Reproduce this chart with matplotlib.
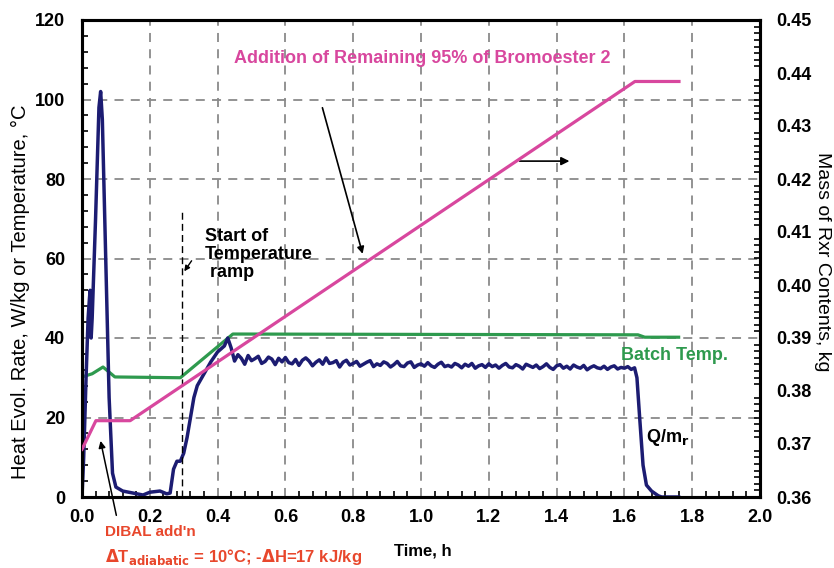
import numpy as np
import matplotlib
matplotlib.use("Agg")
import matplotlib.pyplot as plt
from matplotlib.ticker import MultipleLocator

plt.rcParams['font.family'] = ['Liberation Sans', 'DejaVu Sans']

# ---- data ----
# Heat evolution rate Q/m_r (W/kg) vs time (h)
q_time_early = [0.000, 0.005, 0.012, 0.018, 0.022, 0.024, 0.027, 0.030, 0.040, 0.050, 0.055,
                0.060, 0.070, 0.080, 0.090, 0.100, 0.120, 0.150, 0.180, 0.200, 0.230, 0.250,
                0.260, 0.270, 0.280, 0.290, 0.300, 0.310, 0.320, 0.330, 0.340, 0.360, 0.380,
                0.400, 0.420, 0.430]
q_vals_early = [0.0, 10.0, 30.0, 45.0, 50.0, 52.0, 40.0, 45.0, 70.0, 98.0, 102.0,
                95.0, 60.0, 25.0, 6.0, 2.5, 1.5, 1.0, 0.5, 1.2, 1.5, 0.8,
                1.0, 7.0, 9.0, 9.0, 11.0, 15.0, 20.0, 25.0, 28.0, 31.0, 34.0,
                36.5, 38.0, 40.0]
q_time_mid = np.round(np.arange(0.44, 1.6351, 0.01), 2)
q_vals_mid = [37.5, 34.2, 35.8, 34.9, 33.4, 35.6, 34.3, 34.8, 35.4, 33.6,
              34.1, 35.2, 34.7, 33.3, 34.9, 34.0, 35.1, 33.8, 33.5, 34.6,
              33.1, 34.4, 35.0, 34.2, 33.0, 33.9, 34.5, 33.4, 35.0, 33.6,
              33.8, 34.3, 32.7, 33.9, 34.4, 33.2, 33.6, 34.1, 32.9, 33.4,
              33.9, 34.3, 32.8, 33.5, 33.1, 34.0, 33.6, 32.7, 33.3, 34.1,
              33.0, 32.8, 33.7, 34.0, 32.6, 33.2, 33.5, 32.9, 33.8, 33.0,
              32.6, 33.4, 33.9, 32.8, 33.1, 32.7, 33.6, 33.2, 32.5, 33.4,
              32.9, 33.6, 32.4, 33.0, 33.3, 32.6, 33.5, 32.8, 33.2, 32.4,
              33.1, 33.6, 32.7, 32.5, 33.3, 32.9, 32.2, 33.4, 33.0, 32.6,
              33.2, 32.3, 32.8, 33.5, 32.6, 32.1, 33.0, 33.3, 32.4, 32.9,
              32.2, 33.2, 32.7, 32.4, 33.1, 32.0, 32.6, 33.0, 32.5, 32.3,
              32.9, 32.1, 32.7, 33.0, 32.2, 32.6, 32.4, 32.8, 32.1, 32.5]
q_time_late = [1.637, 1.645, 1.655, 1.665, 1.680, 1.700, 1.710, 1.760]
q_vals_late = [30.0, 20.0, 8.0, 3.0, 1.5, 0.3, 0.0, 0.0]

# Batch temperature (°C)
temp_time = [0.000, 0.030, 0.062, 0.097, 0.290, 0.445, 1.640, 1.660, 1.760]
temp_vals = [30.2, 31.0, 32.7, 30.2, 30.0, 41.0, 40.8, 40.2, 40.2]

# Mass of reactor contents (kg)
mass_time = [0.000, 0.041, 0.142, 1.631, 1.761]
mass_vals = [0.369, 0.3744, 0.3744, 0.4384, 0.4384]

x_ticks = [0.0, 0.2, 0.4, 0.6, 0.8, 1.0, 1.2, 1.4, 1.6, 1.8, 2.0]
y_ticks = [0, 20, 40, 60, 80, 100, 120]
y2_ticks = [0.36, 0.37, 0.38, 0.39, 0.40, 0.41, 0.42, 0.43, 0.44, 0.45]

# ---- colours ----
c_q = '#1c1c72'
c_t = '#2e9a4e'
c_m = '#d8479e'
c_red = '#e8472c'

W, H = 834, 568
fig = plt.figure(figsize=(W/100, H/100), dpi=100)
ax = fig.add_axes([82/W, 71/H, 678/W, 477/H])

q_time = list(q_time_early) + list(q_time_mid) + list(q_time_late)
q_vals = list(q_vals_early) + list(q_vals_mid) + list(q_vals_late)

ax.set_xlim(0, 2.0)
ax.set_ylim(0, 120)
ax.set_xticks(x_ticks)
ax.set_xticklabels([f"{v:.1f}" for v in x_ticks])
ax.set_yticks(y_ticks)
ax.xaxis.set_minor_locator(MultipleLocator(0.04))
ax.yaxis.set_minor_locator(MultipleLocator(4))
ax.grid(True, which='major', color='#8a8a8a', linestyle=(0, (5, 4)), linewidth=1.3)
ax.set_axisbelow(True)

ax.plot(temp_time, temp_vals, color=c_t, lw=2.3, zorder=3)
ax.plot(q_time, q_vals, color=c_q, lw=2.5, zorder=4)

ax2 = ax.twinx()
ax2.set_ylim(0.36, 0.45)
ax2.set_yticks(y2_ticks)
ax2.set_yticklabels([f"{v:.2f}" for v in y2_ticks])
ax2.yaxis.set_minor_locator(MultipleLocator(0.00125))
ax2.plot(mass_time, mass_vals, color=c_m, lw=2.3, zorder=3)

for a in (ax, ax2):
    for s in a.spines.values():
        s.set_linewidth(2.2)
        s.set_color('black')
    a.tick_params(which='both', direction='in', labelsize=13, width=1.2)
    a.tick_params(which='major', length=0)
    a.tick_params(which='minor', length=4)
    for lab in a.get_xticklabels() + a.get_yticklabels():
        lab.set_fontweight('bold')
ax.tick_params(axis='x', pad=9)
ax.tick_params(axis='y', pad=12, right=False)
ax2.tick_params(axis='y', pad=12)

fig.text(423/W, 1 - 551/H, 'Time, h', fontsize=12, fontweight='bold',
         ha='center', va='center')
fig.text(20/W, 1 - 292/H, 'Heat Evol. Rate, W/kg or Temperature, °C', fontsize=14.5,
         rotation=90, ha='center', va='center')
fig.text(823/W, 1 - 262/H, 'Mass of Rxr Contents, kg', fontsize=14,
         rotation=270, ha='center', va='center')

# ---- annotations ----
ax.text(1.003, 110.4, 'Addition of Remaining 95% of Bromoester 2', color=c_m,
        fontsize=13, fontweight='bold', ha='center', va='center')
ax.annotate('', xy=(0.830, 60.5), xytext=(0.707, 98.6),
            arrowprops=dict(arrowstyle='-|>', color='black', lw=1.2, mutation_scale=10))
ax.annotate('', xy=(1.446, 84.5), xytext=(1.283, 84.5),
            arrowprops=dict(arrowstyle='-|>', color='black', lw=1.2, mutation_scale=12))

ax.text(0.363, 61.0, 'Start of\nTemperature\n ramp', fontsize=13, fontweight='bold',
        ha='left', va='center', linespacing=1.1)
ax.plot([0.294, 0.294], [0, 71.7], color='black', lw=1.0, linestyle=(0, (5, 3)), zorder=5)
ax.annotate('', xy=(0.297, 56.2), xytext=(0.328, 60.0),
            arrowprops=dict(arrowstyle='-|>', color='black', lw=1.0, mutation_scale=8))

ax.text(1.747, 35.7, 'Batch Temp.', color=c_t, fontsize=13, fontweight='bold',
        ha='center', va='center')
ax.text(1.664, 15.0, r'Q/m$_\mathbf{r}$', fontsize=13, fontweight='bold',
        ha='left', va='center')

ax.annotate('', xy=(0.053, 14.8), xytext=(0.103, -5.3),
            arrowprops=dict(arrowstyle='-|>', color='black', lw=1.1, mutation_scale=10),
            annotation_clip=False)
ax.text(0.068, -8.8, "DIBAL add'n", color=c_red, fontsize=11, fontweight='bold',
        ha='left', va='center')
ax.text(0.068, -15.1, r'$\mathbf{\Delta}$T$_\mathbf{adiabatic}$ = 10°C; -$\mathbf{\Delta}$H=17 kJ/kg',
        color=c_red, fontsize=12, fontweight='bold', ha='left', va='center')

fig.savefig('out.png', dpi=100)
